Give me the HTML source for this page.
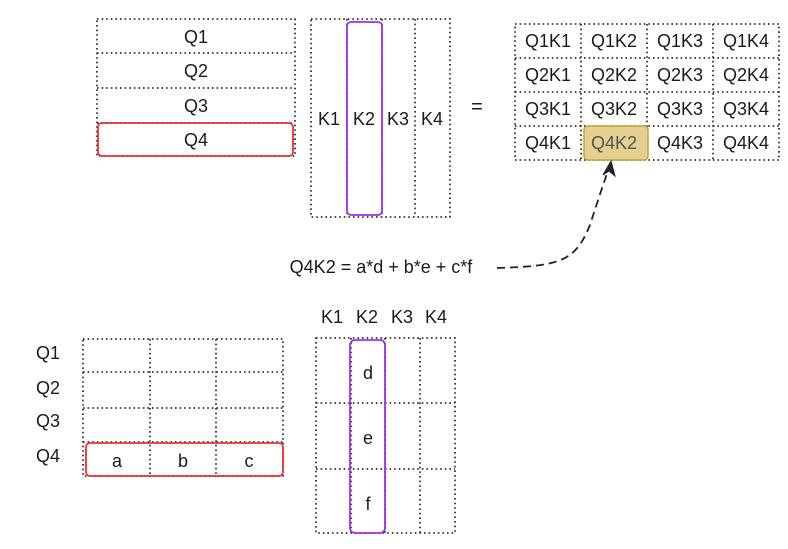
<!DOCTYPE html>
<html><head><meta charset="utf-8"><style>
html,body{margin:0;padding:0;background:#fff;}
svg{display:block;font-family:"Liberation Sans",Arial,sans-serif;}
.g{fill:none;stroke:#333;stroke-width:1.8;stroke-dasharray:1.6 3;}
text{font-size:18px;fill:#1a1a1a;text-anchor:middle;}
</style></head><body>
<svg width="788" height="549" viewBox="0 0 788 549">
<g>
<rect class="g" x="97" y="19" width="198" height="137"/>
<line class="g" x1="97" y1="53" x2="295" y2="53"/>
<line class="g" x1="97" y1="88" x2="295" y2="88"/>
<line class="g" x1="97" y1="123" x2="295" y2="123"/>
<rect x="98" y="123" width="195" height="33" rx="4" fill="none" stroke="#f03030" stroke-width="1.8"/>
<text x="196" y="43">Q1</text><text x="196" y="77">Q2</text><text x="196" y="112">Q3</text><text x="196" y="146">Q4</text>
</g>
<g>
<rect class="g" x="311" y="19" width="139" height="198"/>
<line class="g" x1="347" y1="19" x2="347" y2="217"/>
<line class="g" x1="382" y1="19" x2="382" y2="217"/>
<line class="g" x1="415" y1="19" x2="415" y2="217"/>
<rect x="347" y="22" width="35" height="193" rx="4" fill="none" stroke="#a030f0" stroke-width="1.8"/>
<text x="329" y="125">K1</text><text x="364" y="125">K2</text><text x="398" y="125">K3</text><text x="432" y="125">K4</text>
</g>
<text x="477" y="113" style="font-size:20px">=</text>
<g>
<rect class="g" x="515" y="24" width="264" height="136"/>
<line class="g" x1="515" y1="58" x2="779" y2="58"/>
<line class="g" x1="515" y1="92" x2="779" y2="92"/>
<line class="g" x1="515" y1="126" x2="779" y2="126"/>
<line class="g" x1="581" y1="24" x2="581" y2="160"/>
<line class="g" x1="647" y1="24" x2="647" y2="160"/>
<line class="g" x1="713" y1="24" x2="713" y2="160"/>
<rect x="584" y="126" width="64" height="34" rx="4" fill="#e4cf90" stroke="#c8a43c" stroke-width="1.5"/>
<text x="548" y="47">Q1K1</text><text x="614" y="47">Q1K2</text><text x="680" y="47">Q1K3</text><text x="746" y="47">Q1K4</text>
<text x="548" y="81">Q2K1</text><text x="614" y="81">Q2K2</text><text x="680" y="81">Q2K3</text><text x="746" y="81">Q2K4</text>
<text x="548" y="115">Q3K1</text><text x="614" y="115">Q3K2</text><text x="680" y="115">Q3K3</text><text x="746" y="115">Q3K4</text>
<text x="548" y="149">Q4K1</text><text x="614" y="149" style="fill:#555">Q4K2</text><text x="680" y="149">Q4K3</text><text x="746" y="149">Q4K4</text>
</g>
<text x="381" y="273">Q4K2 = a*d + b*e + c*f</text>
<path d="M497 268 C 560 266, 575 262, 590 225 C 598 200, 603 185, 609 168" fill="none" stroke="#222" stroke-width="1.8" stroke-dasharray="8 5"/>
<path d="M611 161 L603 175 L609 171 L615 176 Z" fill="#222" stroke="#222" stroke-width="1"/>
<g>
<text x="48" y="359">Q1</text><text x="48" y="394">Q2</text><text x="48" y="427">Q3</text><text x="48" y="462">Q4</text>
<rect class="g" x="83" y="339" width="200" height="137"/>
<line class="g" x1="83" y1="372" x2="283" y2="372"/>
<line class="g" x1="83" y1="408" x2="283" y2="408"/>
<line class="g" x1="83" y1="442" x2="283" y2="442"/>
<line class="g" x1="150" y1="339" x2="150" y2="476"/>
<line class="g" x1="216" y1="339" x2="216" y2="476"/>
<rect x="86" y="443" width="197" height="33" rx="4" fill="none" stroke="#f03030" stroke-width="1.8"/>
<text x="117" y="467">a</text><text x="183" y="467">b</text><text x="249" y="467">c</text>
</g>
<g>
<text x="332" y="323">K1</text><text x="367" y="323">K2</text><text x="402" y="323">K3</text><text x="436" y="323">K4</text>
<rect class="g" x="316" y="338" width="139" height="195"/>
<line class="g" x1="316" y1="403" x2="455" y2="403"/>
<line class="g" x1="316" y1="469" x2="455" y2="469"/>
<line class="g" x1="351" y1="338" x2="351" y2="533"/>
<line class="g" x1="385" y1="338" x2="385" y2="533"/>
<line class="g" x1="420" y1="338" x2="420" y2="533"/>
<rect x="350" y="340" width="35" height="193" rx="5" fill="none" stroke="#a030f0" stroke-width="1.8"/>
<text x="368" y="379">d</text><text x="368" y="444">e</text><text x="368" y="510">f</text>
</g>
</svg>
</body></html>
